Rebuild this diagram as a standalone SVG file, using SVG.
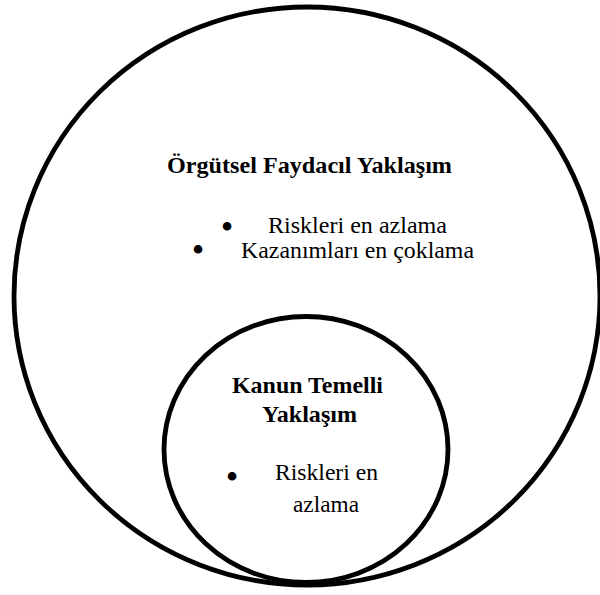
<svg xmlns="http://www.w3.org/2000/svg" width="600" height="595" viewBox="0 0 600 595">
  <style>
    .ring { fill: none; stroke: #000; stroke-width: 4.8; }
    .title { font-family: "Liberation Serif", "Times New Roman", serif; font-weight: bold; font-size: 23px; fill: #000; }
    .body { font-family: "Liberation Serif", "Times New Roman", serif; font-size: 23px; fill: #000; }
    .bullet { font-family: "Liberation Serif", "Times New Roman", serif; font-size: 36px; fill: #000; text-anchor: middle; }
  </style>
  <rect width="600" height="595" fill="#fff"/>
  <g id="orgutsel">
    <ellipse class="ring" cx="307" cy="296" rx="293" ry="289"/>
    <text class="title" x="167" y="173" textLength="285" lengthAdjust="spacingAndGlyphs">Örgütsel Faydacıl Yaklaşım</text>
    <text class="bullet" x="227" y="239">•</text>
    <text class="body" x="268" y="233" textLength="179" lengthAdjust="spacingAndGlyphs">Riskleri en azlama</text>
    <text class="bullet" x="198" y="262">•</text>
    <text class="body" x="241" y="258" textLength="233" lengthAdjust="spacingAndGlyphs">Kazanımları en çoklama</text>
  </g>
  <g id="kanun">
    <ellipse class="ring" cx="306" cy="449.5" rx="142" ry="133"/>
    <text class="title" x="232" y="393" textLength="151" lengthAdjust="spacingAndGlyphs">Kanun Temelli</text>
    <text class="title" x="262" y="422" textLength="95" lengthAdjust="spacingAndGlyphs">Yaklaşım</text>
    <text class="bullet" x="232" y="489">•</text>
    <text class="body" x="275" y="480" textLength="103" lengthAdjust="spacingAndGlyphs">Riskleri en</text>
    <text class="body" x="293" y="512" textLength="66" lengthAdjust="spacingAndGlyphs">azlama</text>
  </g>
  <g id="connectors"/>
</svg>
